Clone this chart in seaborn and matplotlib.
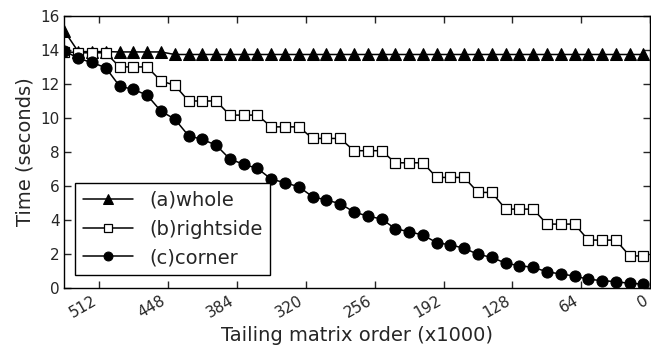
"""Runtime of tailing-matrix update variants vs. remaining matrix order."""

import matplotlib
matplotlib.use("Agg")
import matplotlib.pyplot as plt
import pandas as pd
import seaborn as sns

# tailing matrix order (x1000), one point per panel step
x_order = [544.0, 531.2, 518.4, 505.6, 492.8, 480.0, 467.2, 454.4, 441.6, 428.8,
           416.0, 403.2, 390.4, 377.6, 364.8, 352.0, 339.2, 326.4, 313.6, 300.8,
           288.0, 275.2, 262.4, 249.6, 236.8, 224.0, 211.2, 198.4, 185.6, 172.8,
           160.0, 147.2, 134.4, 121.6, 108.8, 96.0, 83.2, 70.4, 57.6, 44.8,
           32.0, 19.2, 6.4]

whole = [15.1, 13.9, 13.9, 13.9, 13.88, 13.88, 13.88, 13.88] + [13.73] * 35

rightside = [13.9, 13.83, 13.83, 13.83, 13.0, 13.0, 13.0, 12.17, 11.93,
             11.0, 11.0, 11.0, 10.17, 10.17, 10.17, 9.48, 9.48, 9.48,
             8.8, 8.8, 8.8, 8.08, 8.08, 8.08, 7.37, 7.37, 7.37,
             6.51, 6.51, 6.51, 5.63, 5.63, 4.65, 4.65, 4.65,
             3.77, 3.77, 3.77, 2.83, 2.83, 2.83, 1.9, 1.9]

corner = [13.95, 13.5, 13.26, 12.95, 11.87, 11.68, 11.34, 10.4, 9.94, 8.96,
          8.74, 8.41, 7.59, 7.28, 7.04, 6.41, 6.2, 5.96, 5.38, 5.18,
          4.97, 4.48, 4.24, 4.07, 3.5, 3.32, 3.13, 2.68, 2.55, 2.35,
          1.99, 1.82, 1.47, 1.33, 1.23, 0.97, 0.84, 0.72, 0.53, 0.45,
          0.39, 0.29, 0.25]

x_ticks = [512, 448, 384, 320, 256, 192, 128, 64, 0]

sns.set_style("ticks", {
    "xtick.direction": "in",
    "ytick.direction": "in",
})
plt.rcParams["font.family"] = ["DejaVu Sans"]

df = pd.DataFrame({"order": x_order, "whole": whole,
                   "rightside": rightside, "corner": corner})

fig, ax = plt.subplots(figsize=(6.51, 3.52), dpi=100)
fig.subplots_adjust(left=0.099, right=0.999, bottom=0.181, top=0.955)

sns.lineplot(data=df, x="order", y="whole", ax=ax, color="black", lw=1.1,
             marker="^", markersize=8.5, markerfacecolor="black",
             markeredgecolor="black", label="(a)whole")
sns.lineplot(data=df, x="order", y="rightside", ax=ax, color="black", lw=1.1,
             marker="s", markersize=7.8, markerfacecolor="white",
             markeredgecolor="black", markeredgewidth=0.9,
             label="(b)rightside")
sns.lineplot(data=df, x="order", y="corner", ax=ax, color="black", lw=1.1,
             marker="o", markersize=8, markerfacecolor="black",
             markeredgecolor="black", label="(c)corner")

ax.set_xlim(544, 0)
ax.set_ylim(0, 16)
ax.set_xticks(x_ticks)
ax.set_yticks(range(0, 17, 2))
ax.tick_params(top=True, right=True, length=5, width=1, labelsize=11)
plt.setp(ax.get_xticklabels(), rotation=30, ha="right")
for s in ax.spines.values():
    s.set_linewidth(1.0)
    s.set_color("black")

ax.set_xlabel("Tailing matrix order (x1000)", fontsize=14)
ax.set_ylabel("Time (seconds)", fontsize=14)

leg = ax.legend(loc="lower left", fontsize=14, fancybox=False, framealpha=1,
                edgecolor="black", handlelength=2.6, borderaxespad=0.4,
                markerscale=0.8, bbox_to_anchor=(0.005, 0.02))
leg.get_frame().set_linewidth(1.0)

fig.savefig("out.png", dpi=100)
